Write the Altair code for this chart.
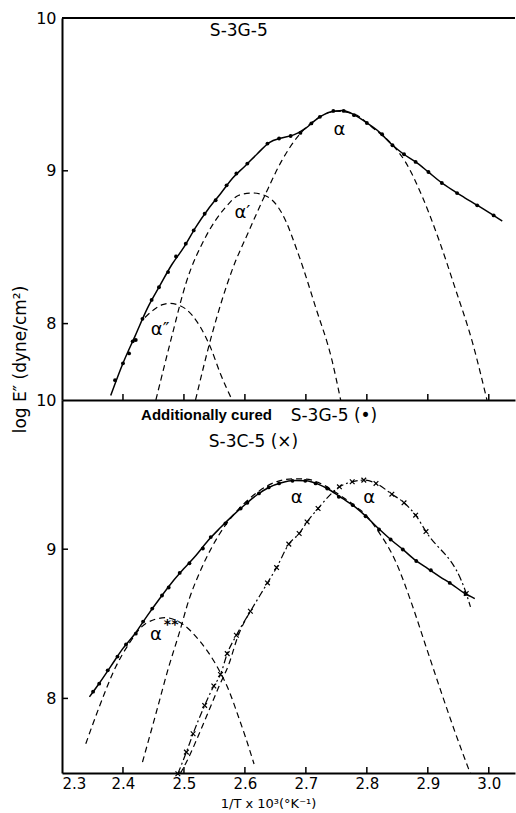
import altair as alt
import pandas as pd

# ---------------- upper panel: S-3G-5 ----------------
# measured points (1/T x 10^3, log E'')
top_pts_x = [2.387, 2.400, 2.410, 2.416, 2.421, 2.432, 2.447, 2.459, 2.474, 2.487,
             2.503, 2.516, 2.534, 2.552, 2.570, 2.586, 2.604, 2.637, 2.656, 2.675,
             2.691, 2.709, 2.723, 2.745, 2.762, 2.779, 2.800, 2.825, 2.842, 2.861,
             2.880, 2.901, 2.923, 2.948, 2.981, 3.008]
top_pts_y = [7.63, 7.74, 7.805, 7.884, 7.893, 8.031, 8.155, 8.238, 8.337, 8.439,
             8.523, 8.610, 8.719, 8.807, 8.905, 8.982, 9.047, 9.178, 9.211, 9.228,
             9.248, 9.310, 9.353, 9.392, 9.392, 9.364, 9.313, 9.239, 9.167, 9.108,
             9.058, 8.992, 8.920, 8.854, 8.774, 8.708]

# smooth curve through the measured points
top_fit_x = [2.380, 2.40, 2.42, 2.44, 2.46, 2.48, 2.50, 2.52, 2.54, 2.56, 2.58,
             2.60, 2.62, 2.64, 2.66, 2.68, 2.70, 2.72, 2.74, 2.76, 2.78, 2.80,
             2.82, 2.84, 2.86, 2.88, 2.90, 2.92, 2.94, 2.96, 2.98, 3.00, 3.022]
top_fit_y = [7.53, 7.74, 7.92, 8.10, 8.245, 8.385, 8.50, 8.635, 8.75, 8.85, 8.953,
             9.03, 9.11, 9.185, 9.215, 9.235, 9.28, 9.345, 9.385, 9.395, 9.365, 9.313,
             9.255, 9.175, 9.11, 9.058, 8.995, 8.93, 8.875, 8.825, 8.777, 8.728, 8.671]

# resolved dispersion components
top_a2_x = [2.436, 2.450, 2.465, 2.477, 2.490, 2.503, 2.525, 2.544, 2.560, 2.579]
top_a2_y = [8.04, 8.089, 8.124, 8.133, 8.123, 8.096, 7.99, 7.84, 7.67, 7.50]

top_a1_x = [2.454, 2.481, 2.503, 2.536, 2.568, 2.590, 2.612, 2.637, 2.661, 2.689,
            2.716, 2.743, 2.757]
top_a1_y = [7.50, 7.93, 8.26, 8.57, 8.76, 8.84, 8.855, 8.83, 8.72, 8.44,
            8.107, 7.757, 7.50]

top_a0_x = [2.519, 2.546, 2.579, 2.607, 2.634, 2.661, 2.689, 2.72, 2.75, 2.78,
            2.81, 2.842, 2.863, 2.891, 2.918, 2.945, 2.973, 2.997]
top_a0_y = [7.50, 7.93, 8.35, 8.61, 8.85, 9.07, 9.235, 9.345, 9.39, 9.37,
            9.28, 9.17, 9.06, 8.83, 8.55, 8.23, 7.88, 7.50]

# ---------------- lower panel: additionally cured ----------------
bot_pts_x = [2.351, 2.361, 2.375, 2.391, 2.405, 2.421, 2.433, 2.448, 2.464, 2.475,
             2.493, 2.509, 2.531, 2.544, 2.568, 2.593, 2.604, 2.623, 2.639, 2.656,
             2.678, 2.699, 2.716, 2.735, 2.754, 2.777, 2.798, 2.820, 2.839, 2.859,
             2.881, 2.905, 2.936, 2.962]
bot_pts_y = [8.045, 8.099, 8.188, 8.28, 8.362, 8.434, 8.515, 8.602, 8.69, 8.743,
             8.841, 8.906, 9.005, 9.081, 9.172, 9.273, 9.311, 9.374, 9.414, 9.441,
             9.458, 9.458, 9.441, 9.407, 9.351, 9.295, 9.221, 9.132, 9.065, 8.998,
             8.921, 8.859, 8.774, 8.70]

bot_fit_x = [2.345, 2.36, 2.38, 2.40, 2.42, 2.44, 2.46, 2.48, 2.50, 2.52, 2.54,
             2.56, 2.58, 2.60, 2.62, 2.64, 2.66, 2.68, 2.70, 2.72, 2.74, 2.76,
             2.78, 2.80, 2.82, 2.84, 2.86, 2.88, 2.90, 2.92, 2.94, 2.96, 2.977]
bot_fit_y = [8.01, 8.095, 8.215, 8.335, 8.435, 8.555, 8.668, 8.775, 8.87, 8.96, 9.06,
             9.145, 9.225, 9.298, 9.365, 9.415, 9.445, 9.46, 9.458, 9.436, 9.395, 9.34,
             9.285, 9.215, 9.135, 9.062, 8.995, 8.925, 8.87, 8.815, 8.763, 8.705, 8.669]

bot_ass_x = [2.339, 2.361, 2.388, 2.410, 2.437, 2.470, 2.497, 2.525, 2.552, 2.574,
             2.590, 2.601, 2.615]
bot_ass_y = [7.696, 7.942, 8.21, 8.367, 8.501, 8.541, 8.50, 8.389, 8.23, 8.05,
             7.87, 7.74, 7.56]

bot_a_x = [2.432, 2.454, 2.475, 2.492, 2.508, 2.525, 2.546, 2.568, 2.59, 2.62,
           2.65, 2.68, 2.70, 2.72, 2.74, 2.76, 2.78, 2.80, 2.817, 2.847, 2.874,
           2.896, 2.923, 2.945, 2.970]
bot_a_y = [7.573, 7.897, 8.21, 8.434, 8.658, 8.837, 9.015, 9.161, 9.27, 9.38,
           9.45, 9.472, 9.47, 9.448, 9.405, 9.35, 9.292, 9.222, 9.13, 8.92, 8.63,
           8.36, 8.03, 7.77, 7.494]

# S-3C-5 points (x marks) and the curve drawn through them
sc_pts_x = [2.490, 2.504, 2.515, 2.534, 2.549, 2.560, 2.571, 2.586, 2.609, 2.637,
            2.652, 2.672, 2.689, 2.702, 2.720, 2.755, 2.776, 2.795, 2.815, 2.841,
            2.861, 2.880, 2.897, 2.963]
sc_pts_y = [7.495, 7.64, 7.763, 7.953, 8.083, 8.16, 8.30, 8.423, 8.584, 8.774,
            8.877, 9.034, 9.105, 9.183, 9.273, 9.418, 9.452, 9.463, 9.441, 9.369,
            9.311, 9.228, 9.118, 8.703]
sc_end_x = [2.970]
sc_end_y = [8.613]

sc_comp_x = [2.494, 2.508, 2.525, 2.541, 2.557, 2.574, 2.588, 2.610]
sc_comp_y = [7.495, 7.606, 7.763, 7.919, 8.076, 8.233, 8.41, 8.59]

# axis ticks
x_tick_values = [2.3, 2.4, 2.5, 2.6, 2.7, 2.8, 2.9, 3.0]
x_inner_ticks = [2.4, 2.5, 2.6, 2.7, 2.8, 2.9, 3.0]
y_tick_values = [8, 9, 10]
y_inner_ticks = [8, 9]

X_DOMAIN = [2.3, 3.043]
Y_DOMAIN = [7.5, 10.0]
W = 453
H_TOP = 382
H_BOT = 373
FONT = "DejaVu Sans"
BOLD_FONT = "Liberation Sans"
DASH = [6, 4]

xs = alt.Scale(domain=X_DOMAIN, nice=False, zero=False)
ys = alt.Scale(domain=Y_DOMAIN, nice=False, zero=False)


class Panel:
    """Builds the layers of one panel; every layer carries the same axes."""

    def __init__(self, x_axis, y_axis, height):
        self.xa = x_axis
        self.ya = y_axis
        self.h = height

    def xy(self):
        return dict(x=alt.X("x:Q", scale=xs, axis=self.xa),
                    y=alt.Y("y:Q", scale=ys, axis=self.ya))

    def curve(self, x, y, dash=None, width=1.2):
        kw = dict(color="black", strokeWidth=width, clip=True, interpolate="monotone")
        if dash:
            kw["strokeDash"] = dash
        return alt.Chart(pd.DataFrame({"x": x, "y": y})).mark_line(**kw).encode(**self.xy())

    def dots(self, x, y):
        return alt.Chart(pd.DataFrame({"x": x, "y": y})).mark_point(
            filled=True, shape="circle", size=15, color="black", opacity=1
        ).encode(**self.xy())

    def crosses(self, x, y):
        return alt.Chart(pd.DataFrame({"x": x, "y": y})).mark_point(
            shape="M-1,-1L1,1M-1,1L1,-1", filled=False, size=22,
            color="black", strokeWidth=1.2, opacity=1
        ).encode(**self.xy())

    def label(self, text, x, y, size=17, weight="normal", font=FONT):
        return alt.Chart(pd.DataFrame({"t": [text], "x": [x], "y": [y]})).mark_text(
            font=font, fontSize=size, fontWeight=weight,
            color="black", align="center", baseline="middle"
        ).encode(text="t:N", **self.xy())

    def y_ticks(self, values):
        return alt.Chart(pd.DataFrame({"y": values})).mark_rule(
            color="black", strokeWidth=1.5
        ).encode(x=alt.value(0), x2=alt.value(6),
                 y=alt.Y("y:Q", scale=ys, axis=self.ya))

    def x_ticks(self, values):
        return alt.Chart(pd.DataFrame({"x": values})).mark_rule(
            color="black", strokeWidth=1.5
        ).encode(x=alt.X("x:Q", scale=xs, axis=self.xa),
                 y=alt.value(self.h), y2=alt.value(self.h - 6))

    def top_rule(self, value):
        return alt.Chart(pd.DataFrame({"y": [value]})).mark_rule(
            color="black", strokeWidth=2
        ).encode(y=alt.Y("y:Q", scale=ys, axis=self.ya))


# ---------------- upper panel ----------------
top_x_axis = alt.Axis(values=x_inner_ticks, labels=False, ticks=False, title=None,
                      domainWidth=2, domainColor="black")
top_y_axis = alt.Axis(values=y_tick_values, ticks=False, labelPadding=6,
                      title="log E\u2033 (dyne/cm\u00b2)", titleX=-33, titleY=341,
                      titleAngle=-90, titleAlign="center", titleBaseline="bottom",
                      titleFont=FONT, titleFontSize=17, titleFontWeight="normal",
                      titleColor="black", domainWidth=2, domainColor="black")
tp = Panel(top_x_axis, top_y_axis, H_TOP)

top = alt.layer(
    tp.dots(top_pts_x, top_pts_y),
    tp.top_rule(10.0),
    tp.y_ticks(y_inner_ticks),
    tp.x_ticks(x_inner_ticks),
    tp.curve(top_a2_x, top_a2_y, DASH),
    tp.curve(top_a1_x, top_a1_y, DASH),
    tp.curve(top_a0_x, top_a0_y, DASH),
    tp.curve(top_fit_x, top_fit_y, None, 1.5),
    tp.label("S-3G-5", 2.590, 9.915),
    tp.label("\u03b1", 2.755, 9.267, 18),
    tp.label("\u03b1\u2032", 2.596, 8.724, 18),
    tp.label("\u03b1\u2033", 2.461, 7.958, 18),
).properties(width=W, height=H_TOP)

# ---------------- lower panel ----------------
bot_x_axis = alt.Axis(values=x_tick_values, ticks=False, format=".1f", labelPadding=3,
                      labelFontSize=15,
                      title="1/T x 10\u00b3(\u00b0K\u207b\u00b9)", titleX=206, titleY=24,
                      titleAlign="center", titleBaseline="top",
                      titleFont=FONT, titleFontSize=13, titleFontWeight="normal",
                      titleColor="black", domainWidth=2, domainColor="black")
bot_y_axis = alt.Axis(values=y_tick_values, ticks=False, labelPadding=6, title=None,
                      domainWidth=2, domainColor="black")
bp = Panel(bot_x_axis, bot_y_axis, H_BOT)

bottom = alt.layer(
    bp.dots(bot_pts_x, bot_pts_y),
    bp.y_ticks(y_inner_ticks),
    bp.x_ticks(x_inner_ticks),
    bp.curve(bot_ass_x, bot_ass_y, DASH),
    bp.curve(bot_a_x, bot_a_y, DASH),
    bp.curve(sc_comp_x, sc_comp_y, DASH),
    bp.curve(sc_pts_x + sc_end_x, sc_pts_y + sc_end_y, [7, 3, 2, 3]),
    bp.curve(bot_fit_x, bot_fit_y, None, 1.5),
    bp.crosses(sc_pts_x, sc_pts_y),
    bp.label("Additionally cured", 2.537, 9.899, 15, "bold", BOLD_FONT),
    bp.label("S-3G-5 (\u2022)", 2.746, 9.893),
    bp.label("S-3C-5 (\u00d7)", 2.614, 9.718),
    bp.label("\u03b1", 2.685, 9.34, 18),
    bp.label("\u03b1", 2.804, 9.34, 18),
    bp.label("\u03b1", 2.454, 8.423, 18),
    bp.label("**", 2.479, 8.49, 14, "bold"),
).properties(width=W, height=H_BOT)

chart = alt.vconcat(top, bottom, spacing=0, bounds="flush").properties(
    padding={"left": 11, "top": 10, "right": 0, "bottom": 0},
    background="white",
).configure_view(strokeWidth=0, stroke="transparent").configure_axis(
    grid=False, labelFont=FONT, labelFontSize=16, labelColor="black"
)

chart.save("out.html", embed_options={"renderer": "svg", "actions": False})
